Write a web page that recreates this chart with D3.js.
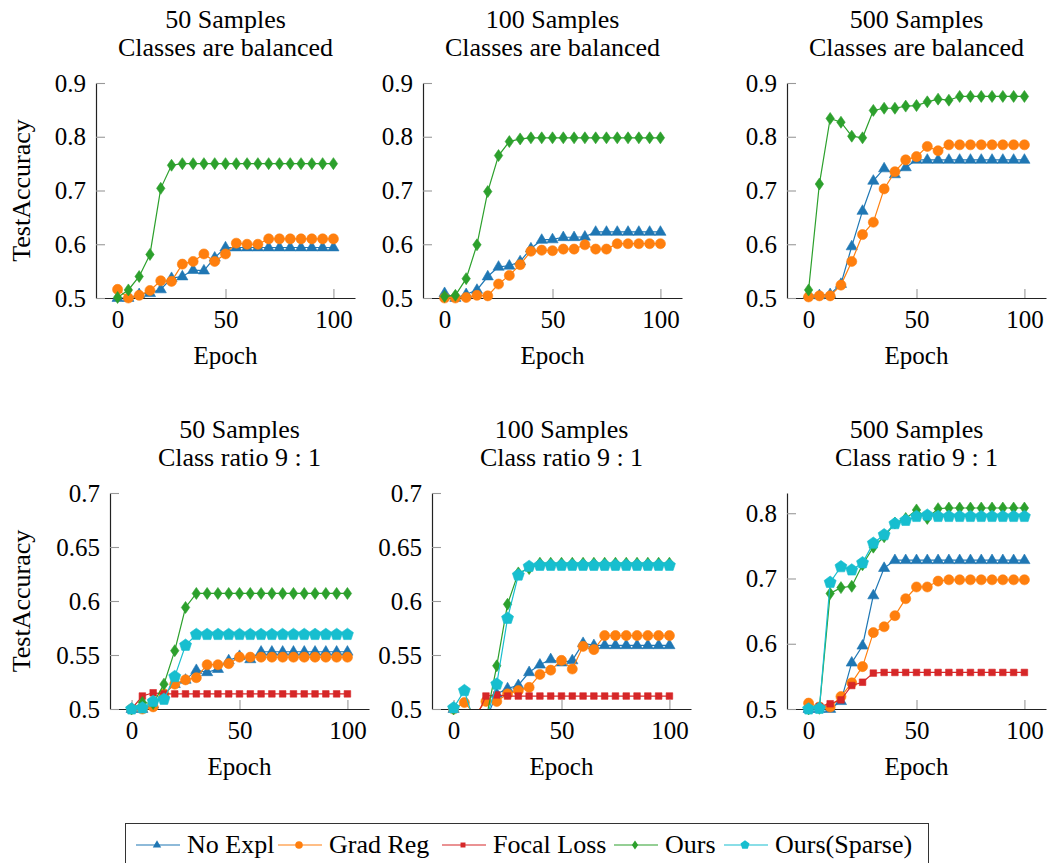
<!DOCTYPE html>
<html>
<head>
<meta charset="utf-8">
<script src="https://cdn.jsdelivr.net/npm/d3@7"></script>
<style>
  body { margin: 0; background: #fff; }
  text { font-family: "Liberation Serif", "Times New Roman", serif; fill: #000; }
</style>
</head>
<body>
<svg id="fig" width="1047" height="863"></svg>
<script>
"use strict";

// data, one point every 5 epochs
const epochs = [0, 5, 10, 15, 20, 25, 30, 35, 40, 45, 50, 55, 60, 65, 70, 75, 80, 85, 90, 95, 100];
const xTicks = [0, 50, 100];
const yTicksBalanced = [0.5, 0.6, 0.7, 0.8, 0.9];
const yTicksRatioSmall = [0.5, 0.55, 0.6, 0.65, 0.7];
const yTicksRatioLarge = [0.5, 0.6, 0.7, 0.8];

const seriesNames = ["No Expl", "Grad Reg", "Focal Loss", "Ours", "Ours(Sparse)"];
const seriesColors = ["#1f77b4", "#ff7f0e", "#d62728", "#2ca02c", "#17becf"];
const seriesMarks = ["triangle", "circle", "square", "diamond", "pentagon"];

// 50 samples, balanced
const noExpl50Bal  = [0.500, 0.500, 0.507, 0.509, 0.516, 0.537, 0.540, 0.552, 0.551, 0.575, 0.594, 0.594, 0.594, 0.594, 0.594, 0.594, 0.594, 0.594, 0.594, 0.594, 0.594];
const gradReg50Bal = [0.516, 0.500, 0.505, 0.514, 0.532, 0.531, 0.563, 0.568, 0.582, 0.568, 0.582, 0.602, 0.600, 0.600, 0.610, 0.610, 0.610, 0.610, 0.610, 0.610, 0.610];
const ours50Bal    = [0.501, 0.515, 0.540, 0.581, 0.704, 0.747, 0.750, 0.750, 0.750, 0.750, 0.750, 0.750, 0.750, 0.750, 0.750, 0.750, 0.750, 0.750, 0.750, 0.750, 0.750];

// 100 samples, balanced
const noExpl100Bal  = [0.509, 0.500, 0.507, 0.515, 0.540, 0.558, 0.560, 0.568, 0.592, 0.608, 0.609, 0.613, 0.613, 0.614, 0.623, 0.623, 0.623, 0.623, 0.623, 0.623, 0.623];
const gradReg100Bal = [0.500, 0.500, 0.501, 0.505, 0.504, 0.526, 0.542, 0.562, 0.587, 0.589, 0.588, 0.591, 0.591, 0.599, 0.591, 0.591, 0.601, 0.601, 0.601, 0.601, 0.601];
const ours100Bal    = [0.503, 0.505, 0.536, 0.599, 0.698, 0.765, 0.791, 0.796, 0.798, 0.798, 0.798, 0.798, 0.798, 0.798, 0.798, 0.798, 0.798, 0.798, 0.798, 0.798, 0.798];

// 500 samples, balanced
const noExpl500Bal  = [0.506, 0.505, 0.507, 0.526, 0.596, 0.662, 0.718, 0.741, 0.730, 0.743, 0.757, 0.757, 0.757, 0.757, 0.757, 0.757, 0.757, 0.757, 0.757, 0.757, 0.757];
const gradReg500Bal = [0.502, 0.504, 0.504, 0.524, 0.568, 0.618, 0.641, 0.703, 0.735, 0.757, 0.763, 0.782, 0.774, 0.785, 0.785, 0.785, 0.785, 0.785, 0.785, 0.785, 0.785];
const ours500Bal    = [0.515, 0.712, 0.834, 0.827, 0.801, 0.798, 0.849, 0.853, 0.853, 0.857, 0.858, 0.865, 0.870, 0.868, 0.875, 0.875, 0.875, 0.875, 0.875, 0.875, 0.875];

// 50 samples, ratio 9:1
const noExpl50Imb  = [0.500, 0.500, 0.504, 0.514, 0.523, 0.527, 0.536, 0.534, 0.537, 0.545, 0.549, 0.546, 0.553, 0.553, 0.553, 0.553, 0.553, 0.553, 0.553, 0.553, 0.553];
const gradReg50Imb = [0.500, 0.500, 0.502, 0.514, 0.523, 0.527, 0.529, 0.541, 0.541, 0.542, 0.548, 0.548, 0.548, 0.548, 0.548, 0.548, 0.548, 0.548, 0.548, 0.548, 0.548];
const focal50Imb   = [0.500, 0.512, 0.515, 0.514, 0.514, 0.514, 0.514, 0.514, 0.514, 0.514, 0.514, 0.514, 0.514, 0.514, 0.514, 0.514, 0.514, 0.514, 0.514, 0.514, 0.514];
const ours50Imb    = [0.500, 0.506, 0.505, 0.523, 0.554, 0.594, 0.607, 0.607, 0.607, 0.607, 0.607, 0.607, 0.607, 0.607, 0.607, 0.607, 0.607, 0.607, 0.607, 0.607, 0.607];
const sparse50Imb  = [0.500, 0.501, 0.507, 0.509, 0.530, 0.559, 0.569, 0.569, 0.569, 0.569, 0.569, 0.569, 0.569, 0.569, 0.569, 0.569, 0.569, 0.569, 0.569, 0.569, 0.569];

// 100 samples, ratio 9:1
const noExpl100Imb  = [0.500, 0.495, 0.490, 0.490, 0.514, 0.519, 0.522, 0.534, 0.541, 0.546, 0.543, 0.545, 0.561, 0.559, 0.559, 0.559, 0.559, 0.559, 0.559, 0.559, 0.559];
const gradReg100Imb = [0.500, 0.506, 0.495, 0.507, 0.507, 0.514, 0.517, 0.520, 0.532, 0.536, 0.545, 0.537, 0.558, 0.555, 0.568, 0.568, 0.568, 0.568, 0.568, 0.568, 0.568];
const focal100Imb   = [0.490, 0.490, 0.490, 0.512, 0.513, 0.512, 0.512, 0.512, 0.512, 0.512, 0.512, 0.512, 0.512, 0.512, 0.512, 0.512, 0.512, 0.512, 0.512, 0.512, 0.512];
const ours100Imb    = [0.500, 0.490, 0.485, 0.490, 0.540, 0.597, 0.626, 0.630, 0.635, 0.635, 0.635, 0.635, 0.635, 0.635, 0.635, 0.635, 0.635, 0.635, 0.635, 0.635, 0.635];
const sparse100Imb  = [0.501, 0.517, 0.485, 0.490, 0.523, 0.584, 0.624, 0.632, 0.633, 0.633, 0.633, 0.633, 0.633, 0.633, 0.633, 0.633, 0.633, 0.633, 0.633, 0.633, 0.633];

// 500 samples, ratio 9:1
const noExpl500Imb  = [0.500, 0.500, 0.500, 0.512, 0.571, 0.597, 0.674, 0.716, 0.728, 0.728, 0.728, 0.728, 0.728, 0.728, 0.728, 0.728, 0.728, 0.728, 0.728, 0.728, 0.728];
const gradReg500Imb = [0.509, 0.503, 0.503, 0.519, 0.540, 0.565, 0.617, 0.626, 0.643, 0.669, 0.687, 0.687, 0.696, 0.698, 0.698, 0.698, 0.698, 0.698, 0.698, 0.698, 0.698];
const focal500Imb   = [0.500, 0.504, 0.508, 0.514, 0.536, 0.541, 0.555, 0.556, 0.556, 0.556, 0.556, 0.556, 0.556, 0.556, 0.556, 0.556, 0.556, 0.556, 0.556, 0.556, 0.556];
const ours500Imb    = [0.500, 0.501, 0.677, 0.686, 0.688, 0.721, 0.748, 0.764, 0.785, 0.792, 0.805, 0.792, 0.807, 0.808, 0.808, 0.808, 0.808, 0.808, 0.808, 0.808, 0.808];
const sparse500Imb  = [0.500, 0.501, 0.694, 0.718, 0.713, 0.724, 0.754, 0.767, 0.784, 0.789, 0.795, 0.797, 0.795, 0.795, 0.795, 0.795, 0.795, 0.795, 0.795, 0.795, 0.795];

// panel layout (pixels)
const panelWidth = 259;
const panels = [
  {title: ["50 Samples", "Classes are balanced"], left: 96, top: 83, bottom: 298, yDomain: [0.5, 0.9], yTicks: yTicksBalanced, ylabel: true,
   series: [noExpl50Bal, gradReg50Bal, null, ours50Bal, null]},
  {title: ["100 Samples", "Classes are balanced"], left: 423, top: 83, bottom: 298, yDomain: [0.5, 0.9], yTicks: yTicksBalanced,
   series: [noExpl100Bal, gradReg100Bal, null, ours100Bal, null]},
  {title: ["500 Samples", "Classes are balanced"], left: 787, top: 83, bottom: 298, yDomain: [0.5, 0.9], yTicks: yTicksBalanced,
   series: [noExpl500Bal, gradReg500Bal, null, ours500Bal, null]},
  {title: ["50 Samples", "Class ratio 9 : 1"], left: 110, top: 493, bottom: 709, yDomain: [0.5, 0.7], yTicks: yTicksRatioSmall, ylabel: true,
   series: [noExpl50Imb, gradReg50Imb, focal50Imb, ours50Imb, sparse50Imb]},
  {title: ["100 Samples", "Class ratio 9 : 1"], left: 432, top: 493, bottom: 709, yDomain: [0.5, 0.7], yTicks: yTicksRatioSmall,
   series: [noExpl100Imb, gradReg100Imb, focal100Imb, ours100Imb, sparse100Imb]},
  {title: ["500 Samples", "Class ratio 9 : 1"], left: 787, top: 493, bottom: 709, yDomain: [0.5, 0.831], yTicks: yTicksRatioLarge,
   series: [noExpl500Imb, gradReg500Imb, focal500Imb, ours500Imb, sparse500Imb]}
];

let svg = d3.select("#fig");

// marker shapes centred on 0,0
function markPath(kind) {
  if (kind === "triangle") return "M0,-6.2L5.6,3.4L-5.6,3.4Z";
  if (kind === "circle") return d3.symbol(d3.symbolCircle, 80)();
  if (kind === "square") return "M-3.3,-3.3H3.3V3.3H-3.3Z";
  if (kind === "diamond") return "M0,-6L4.2,0L0,6L-4.2,0Z";
  // pentagon
  let pts = d3.range(5).map(i => {
    let a = -Math.PI / 2 + i * 2 * Math.PI / 5;
    return [6.3 * Math.cos(a), 6.3 * Math.sin(a)];
  });
  return "M" + pts.map(p => p[0].toFixed(2) + "," + p[1].toFixed(2)).join("L") + "Z";
}

function drawPanel(cfg, idx) {
  let x = d3.scaleLinear().domain([-10, 110]).range([cfg.left, cfg.left + panelWidth]);
  let y = d3.scaleLinear().domain(cfg.yDomain).range([cfg.bottom, cfg.top]);
  let g = svg.append("g");
  let cx = (cfg.left + cfg.left + panelWidth) / 2;

  // titles
  g.selectAll(".title").data(cfg.title).join("text")
    .attr("x", cx)
    .attr("y", (d, i) => cfg.top - 55 + i * 28)
    .attr("text-anchor", "middle")
    .style("font-size", "26px")
    .text(d => d);

  let xAxis = g.append("g")
    .attr("transform", `translate(0,${cfg.bottom})`)
    .call(d3.axisBottom(x).tickValues(xTicks).tickSizeInner(-9).tickSizeOuter(0).tickPadding(12));
  let yAxis = g.append("g")
    .attr("transform", `translate(${cfg.left},0)`)
    .call(d3.axisLeft(y).tickValues(cfg.yTicks).tickSizeInner(-9).tickSizeOuter(0).tickPadding(10)
      .tickFormat(d => String(+d.toFixed(2))));
  [xAxis, yAxis].forEach(a => {
    a.select(".domain").attr("stroke", "#222").attr("stroke-width", 1.2);
    a.selectAll(".tick line").attr("stroke", "#999").attr("stroke-width", 1.1);
    a.selectAll(".tick text").style("font-size", "25px").style("font-family", "'Liberation Serif', serif").attr("fill", "#000");
  });

  // axis titles
  g.append("text")
    .attr("x", cx).attr("y", cfg.bottom + 66)
    .attr("text-anchor", "middle").style("font-size", "25px")
    .text("Epoch");
  if (cfg.ylabel) {
    g.append("text")
      .attr("transform", `translate(30,${(cfg.top + cfg.bottom) / 2}) rotate(-90)`)
      .attr("text-anchor", "middle").style("font-size", "26px")
      .text("TestAccuracy");
  }

  // clip lines to the axis box
  let clipId = "clip" + idx;
  svg.append("clipPath").attr("id", clipId).append("rect")
    .attr("x", cfg.left).attr("y", cfg.top - 20)
    .attr("width", panelWidth).attr("height", cfg.bottom - cfg.top + 20);

  let line = d3.line().x((d, i) => x(epochs[i])).y(d => y(d));

  cfg.series.forEach((vals, s) => {
    if (!vals) return;
    let sg = g.append("g");
    sg.append("path")
      .attr("d", line(vals))
      .attr("clip-path", `url(#${clipId})`)
      .attr("fill", "none")
      .attr("stroke", seriesColors[s])
      .attr("stroke-width", 1.2);
    sg.selectAll("path.mark")
      .data(vals.map((v, i) => ({v: v, e: epochs[i]})).filter(d => d.v >= cfg.yDomain[0] - 0.0005))
      .join("path")
      .attr("class", "mark")
      .attr("transform", d => `translate(${x(d.e)},${y(d.v)})`)
      .attr("d", markPath(seriesMarks[s]))
      .attr("fill", seriesColors[s])
      .attr("stroke", seriesColors[s])
      .attr("stroke-width", 0.6);
  });
}

panels.forEach(drawPanel);

// legend
let legend = svg.append("g");
legend.append("rect")
  .attr("x", 125.5).attr("y", 823.5).attr("width", 803).attr("height", 42)
  .attr("fill", "none").attr("stroke", "#333").attr("stroke-width", 1);

const legendStarts = [136, 278, 442, 614, 724];
seriesNames.forEach((name, s) => {
  let lx = legendStarts[s];
  let item = legend.append("g");
  item.append("line")
    .attr("x1", lx).attr("x2", lx + 44).attr("y1", 845).attr("y2", 845)
    .attr("stroke", seriesColors[s]).attr("stroke-width", 1.2);
  item.append("path")
    .attr("transform", `translate(${lx + 21},845) scale(0.75)`)
    .attr("d", markPath(seriesMarks[s]))
    .attr("fill", seriesColors[s]);
  item.append("text")
    .attr("x", lx + 51).attr("y", 853)
    .style("font-size", "26px")
    .text(name);
});
</script>
</body>
</html>
